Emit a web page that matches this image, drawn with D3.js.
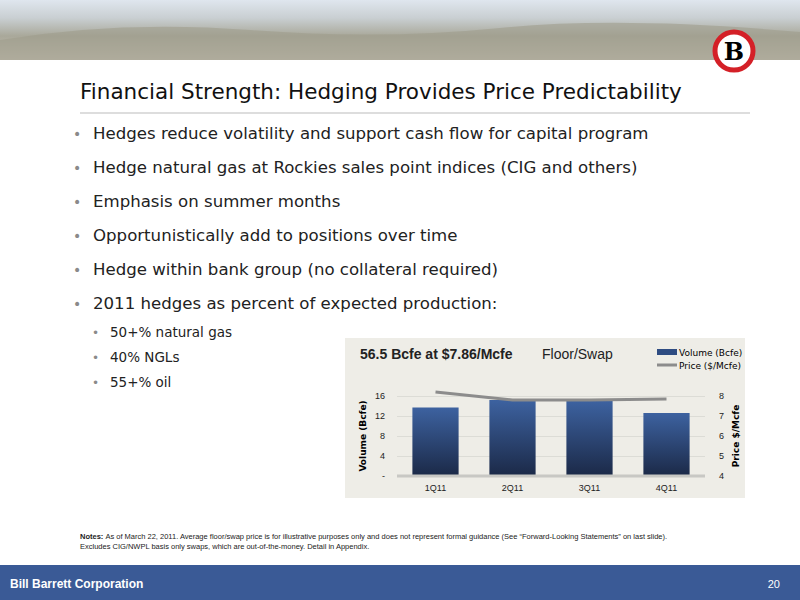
<!DOCTYPE html><html><head><meta charset="utf-8"><script src="https://cdn.jsdelivr.net/npm/d3@7"></script>
<style>body{margin:0;width:800px;height:600px;overflow:hidden;background:#fff;font-family:"DejaVu Sans",sans-serif}</style></head><body>
<svg id="s" width="800" height="600"></svg>
<script>
const categories=["1Q11","2Q11","3Q11","4Q11"];
const volume=[13.7,15.2,15.0,12.6];
const price=[8.2,7.8,7.8,7.85];
const volTicks=[0,4,8,12,16];
const priceTicks=[4,5,6,7,8];
const bullets=["Hedges reduce volatility and support cash flow for capital program","Hedge natural gas at Rockies sales point indices (CIG and others)","Emphasis on summer months","Opportunistically add to positions over time","Hedge within bank group (no collateral required)","2011 hedges as percent of expected production:"];
const subs=["50+% natural gas","40% NGLs","55+% oil"];
const svg=d3.select("#s");
const defs=svg.append("defs");
let g=defs.append("linearGradient").attr("id","sky").attr("x1",0).attr("x2",0).attr("y1",0).attr("y2",1);
g.append("stop").attr("offset",0).attr("stop-color","#dfe6ee");g.append("stop").attr("offset",0.3).attr("stop-color","#c9cfd2");g.append("stop").attr("offset",0.6).attr("stop-color","#a9a89a");g.append("stop").attr("offset",1).attr("stop-color","#c8c2b4");
svg.append("rect").attr("width",800).attr("height",60).attr("fill","url(#sky)");
svg.append("path").attr("d","M0,40 Q120,20 250,30 T500,28 T800,32 L800,60 L0,60Z").attr("fill","#9f9d8c").attr("opacity",0.6);
svg.append("circle").attr("cx",734).attr("cy",51).attr("r",19).attr("fill","#fff").attr("stroke","#d42027").attr("stroke-width",5);
svg.append("text").attr("x",734).attr("y",60).attr("text-anchor","middle").attr("font-size",24).attr("font-weight","bold").attr("font-family","DejaVu Serif").text("B");
svg.append("text").attr("x",80).attr("y",99).attr("font-size",21.5).attr("fill","#111").text("Financial Strength: Hedging Provides Price Predictability");
svg.append("line").attr("x1",80).attr("x2",750).attr("y1",113).attr("y2",113).attr("stroke","#ddd").attr("stroke-width",2);
bullets.forEach((b,i)=>{const y=139+i*34;
 svg.append("text").attr("x",73).attr("y",y).attr("font-size",14).attr("fill","#8a8a8a").text("•");
 svg.append("text").attr("x",93).attr("y",y).attr("font-size",16.6).attr("fill","#222").text(b);});
subs.forEach((b,i)=>{const y=337+i*25;
 svg.append("text").attr("x",92).attr("y",y).attr("font-size",12).attr("fill","#8a8a8a").text("•");
 svg.append("text").attr("x",110).attr("y",y).attr("font-size",13.5).attr("fill","#222").text(b);});
svg.append("rect").attr("x",345).attr("y",338).attr("width",400).attr("height",160).attr("fill","#eeede7");
svg.append("text").attr("x",360).attr("y",359).attr("font-size",14).attr("font-weight","bold").attr("font-family","Liberation Sans").attr("fill","#222").text("56.5 Bcfe at $7.86/Mcfe");
svg.append("text").attr("x",542).attr("y",359).attr("font-size",14).attr("font-family","Liberation Sans").attr("fill","#222").text("Floor/Swap");
const x=d3.scaleBand().domain(categories).range([397,705]).paddingInner(0.4).paddingOuter(0.2);
const y=d3.scaleLinear().domain([0,16]).range([476,396]);
const y2=d3.scaleLinear().domain([4,8]).range([476,396]);
let bg=defs.append("linearGradient").attr("id","bar").attr("x1",0).attr("x2",0).attr("y1",0).attr("y2",1);
bg.append("stop").attr("offset",0).attr("stop-color","#3d62a0");bg.append("stop").attr("offset",1).attr("stop-color","#1b2947");
const ax=svg.append("g").attr("transform","translate(397,0)").call(d3.axisLeft(y).tickValues(volTicks).tickSize(-308).tickFormat(d=>d===0?"-":d));
ax.selectAll("line").attr("stroke","#dcdcd6");ax.select(".domain").remove();
ax.selectAll("text").attr("font-size",9).attr("fill","#222").attr("x",-12);
const ax2=svg.append("g").attr("transform","translate(705,0)").call(d3.axisRight(y2).tickValues(priceTicks).tickSize(0).tickFormat(d3.format("d")));
ax2.select(".domain").remove();ax2.selectAll("text").attr("font-size",9).attr("fill","#222").attr("x",14);
svg.selectAll(".bar").data(volume).join("rect").attr("x",(d,i)=>x(categories[i])).attr("width",x.bandwidth()).attr("y",d=>y(d)).attr("height",d=>y(0)-y(d)).attr("fill","url(#bar)");
svg.append("line").attr("x1",397).attr("x2",705).attr("y1",y(0)).attr("y2",y(0)).attr("stroke","#c8c8c4").attr("stroke-width",3);
svg.append("path").datum(price).attr("fill","none").attr("stroke","#8c8c8c").attr("stroke-width",3)
 .attr("d",d3.line().x((d,i)=>x(categories[i])+x.bandwidth()/2).y(d=>y2(d)));
const xa=svg.append("g").attr("transform","translate(0,476)").call(d3.axisBottom(x).tickSize(0));
xa.select(".domain").remove();xa.selectAll("text").attr("font-size",9).attr("fill","#222").attr("dy",12);
svg.append("text").attr("transform","translate(366,436) rotate(-90)").attr("text-anchor","middle").attr("font-size",9).attr("font-weight","bold").text("Volume (Bcfe)");
svg.append("text").attr("transform","translate(739,436) rotate(-90)").attr("text-anchor","middle").attr("font-size",9).attr("font-weight","bold").text("Price $/Mcfe");
svg.append("rect").attr("x",657).attr("y",349).attr("width",20).attr("height",6).attr("fill","#2e4c82");
svg.append("text").attr("x",679).attr("y",356).attr("font-size",9).text("Volume (Bcfe)");
svg.append("line").attr("x1",657).attr("x2",677).attr("y1",365).attr("y2",365).attr("stroke","#8c8c8c").attr("stroke-width",3);
svg.append("text").attr("x",679).attr("y",369).attr("font-size",9).text("Price ($/Mcfe)");
const n=svg.append("text").attr("x",80).attr("y",539).attr("font-size",7.5).attr("font-family","Liberation Sans").attr("fill","#222");
n.append("tspan").attr("font-weight","bold").text("Notes: ");
n.append("tspan").text("As of March 22, 2011. Average floor/swap price is for illustrative purposes only and does not represent formal guidance (See \u201cForward-Looking Statements\u201d on last slide).");
svg.append("text").attr("x",80).attr("y",549).attr("font-size",7.5).attr("font-family","Liberation Sans").attr("fill","#222").text("Excludes CIG/NWPL basis only swaps, which are out-of-the-money. Detail in Appendix.");
svg.append("rect").attr("y",565).attr("width",800).attr("height",35).attr("fill","#3a5a96");
svg.append("text").attr("x",10).attr("y",588).attr("font-size",12).attr("font-weight","bold").attr("font-family","Liberation Sans").attr("fill","#fff").text("Bill Barrett Corporation");
svg.append("text").attr("x",780).attr("y",588).attr("text-anchor","end").attr("font-size",11).attr("font-family","Liberation Sans").attr("fill","#fff").text("20");
</script></body></html>
